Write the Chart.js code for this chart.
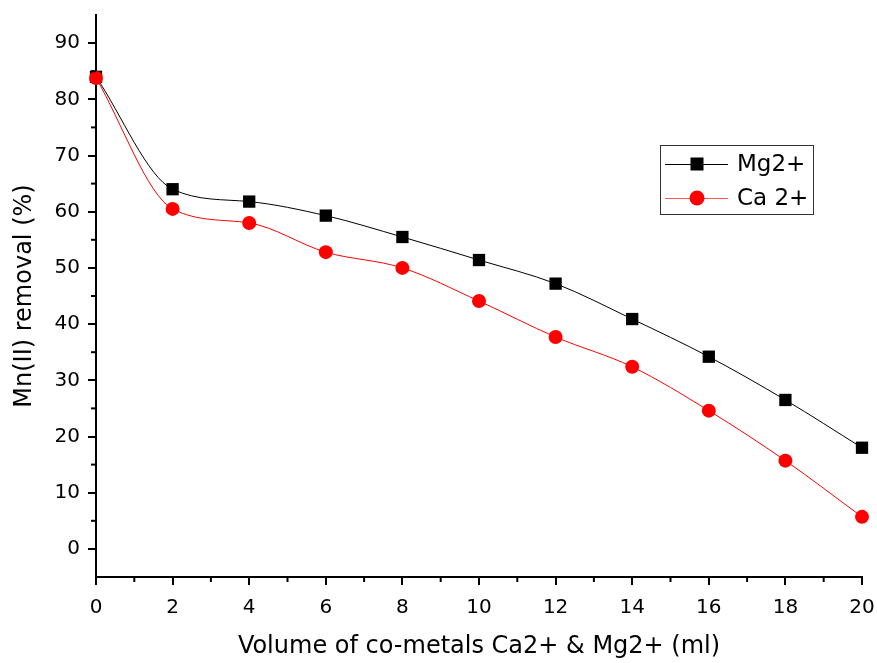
<!DOCTYPE html>
<html>
<head>
<meta charset="utf-8">
<script src="https://cdn.jsdelivr.net/npm/chart.js@4"></script>
<style>
  html, body { margin: 0; padding: 0; background: #fff; }
  #chart { display: block; }
</style>
</head>
<body>
<canvas id="chart" width="877" height="663"></canvas>
<script>
// Volumen de co-metales (ml)
const volumes = [0, 2, 4, 6, 8, 10, 12, 14, 16, 18, 20];
// Remoción de Mn(II) (%)
const mgRemoval = [84.0, 64.0, 61.8, 59.3, 55.5, 51.4, 47.2, 40.9, 34.2, 26.5, 18.0];
const caRemoval = [83.8, 60.5, 58.0, 52.8, 50.0, 44.1, 37.7, 32.4, 24.6, 15.7, 5.7];
const seriesLabels = ['Mg2+', 'Ca 2+'];

const FONT = '"DejaVu Sans", Arial, sans-serif';

// Marcas menores (más cortas) en ambos ejes
const minorTicks = {
    id: 'minorTicks',
    afterDraw(chart) {
        const ctx = chart.ctx;
        const x = chart.scales.x, y = chart.scales.y;
        ctx.save();
        ctx.strokeStyle = '#000';
        ctx.lineWidth = 2;
        for (let v = 1; v < 20; v += 2) {
            const px = x.getPixelForValue(v);
            ctx.beginPath();
            ctx.moveTo(px, x.top);
            ctx.lineTo(px, x.top + 5);
            ctx.stroke();
        }
        for (let v = 5; v < 95; v += 10) {
            const py = y.getPixelForValue(v);
            ctx.beginPath();
            ctx.moveTo(y.right, py);
            ctx.lineTo(y.right - 5, py);
            ctx.stroke();
        }
        ctx.restore();
    }
};

// Leyenda con recuadro, como en el original
const boxLegend = {
    id: 'boxLegend',
    afterDraw(chart) {
        const ctx = chart.ctx;
        const left = 660, top = 145, w = 153, h = 69;
        ctx.save();
        ctx.strokeStyle = '#333';
        ctx.lineWidth = 1;
        ctx.strokeRect(left + 0.5, top + 0.5, w, h);
        const rows = [164, 198];
        chart.data.datasets.forEach((ds, i) => {
            const cy = rows[i];
            ctx.strokeStyle = i === 0 ? '#000' : '#ff5555';
            ctx.lineWidth = 1;
            ctx.beginPath();
            ctx.moveTo(665, cy + 0.5);
            ctx.lineTo(728, cy + 0.5);
            ctx.stroke();
            ctx.fillStyle = ds.pointBackgroundColor;
            if (ds.pointStyle === 'rect') {
                ctx.fillRect(697 - 6.5, cy - 6.5, 13, 13);
            } else {
                ctx.beginPath();
                ctx.arc(697, cy, 7.5, 0, Math.PI * 2);
                ctx.fill();
            }
            ctx.fillStyle = '#000';
            ctx.font = '23px ' + FONT;
            ctx.textBaseline = 'middle';
            ctx.textAlign = 'left';
            ctx.fillText(ds.label, 737, cy + 1);
        });
        ctx.restore();
    }
};

new Chart(document.getElementById('chart'), {
    type: 'line',
    data: {
        datasets: [{
            label: seriesLabels[0],
            data: volumes.map((v, i) => ({ x: v, y: mgRemoval[i] })),
            borderColor: '#000',
            borderWidth: 1,
            pointStyle: 'rect',
            pointRadius: 8.7,
            pointBackgroundColor: '#000',
            pointBorderWidth: 0,
            cubicInterpolationMode: 'monotone',
            order: 1
        }, {
            label: seriesLabels[1],
            data: volumes.map((v, i) => ({ x: v, y: caRemoval[i] })),
            borderColor: '#ff0000',
            borderWidth: 1,
            pointStyle: 'circle',
            pointRadius: 7,
            pointBackgroundColor: '#ff0000',
            pointBorderWidth: 0,
            cubicInterpolationMode: 'monotone',
            order: 0
        }]
    },
    options: {
        responsive: false,
        animation: false,
        clip: false,
        layout: { padding: { top: 15, right: 15, left: 0, bottom: 0 } },
        plugins: {
            legend: { display: false },
            tooltip: { enabled: false }
        },
        scales: {
            x: {
                type: 'linear',
                min: 0,
                max: 20,
                afterFit: s => {
                    s.height = 86;
                    s.paddingLeft = 0;
                    s.paddingRight = 0;
                },
                border: { display: true, color: '#000', width: 2 },
                grid: { drawOnChartArea: false, color: '#000', lineWidth: 2, tickLength: 8 },
                ticks: {
                    stepSize: 2,
                    color: '#000',
                    padding: 11,
                    maxRotation: 0,
                    font: { family: FONT, size: 20 }
                },
                title: {
                    display: true,
                    text: 'Volume of co-metals Ca2+ & Mg2+ (ml)',
                    color: '#000',
                    font: { family: FONT, size: 24 },
                    padding: { top: 14, bottom: 2 }
                }
            },
            y: {
                min: -5,
                max: 95,
                afterFit: s => {
                    s.width = 96;
                    s.paddingTop = 0;
                    s.paddingBottom = 0;
                },
                afterBuildTicks: s => {
                    s.ticks = [];
                    for (let v = 0; v <= 90; v += 10) s.ticks.push({ value: v });
                },
                border: { display: true, color: '#000', width: 2 },
                grid: { drawOnChartArea: false, color: '#000', lineWidth: 2, tickLength: 8 },
                ticks: {
                    color: '#000',
                    padding: 8,
                    font: { family: FONT, size: 20 }
                },
                title: {
                    display: true,
                    text: 'Mn(II) removal (%)',
                    color: '#000',
                    font: { family: FONT, size: 24 },
                    padding: { top: 10, bottom: 4 }
                }
            }
        }
    },
    plugins: [minorTicks, boxLegend]
});
</script>
</body>
</html>
